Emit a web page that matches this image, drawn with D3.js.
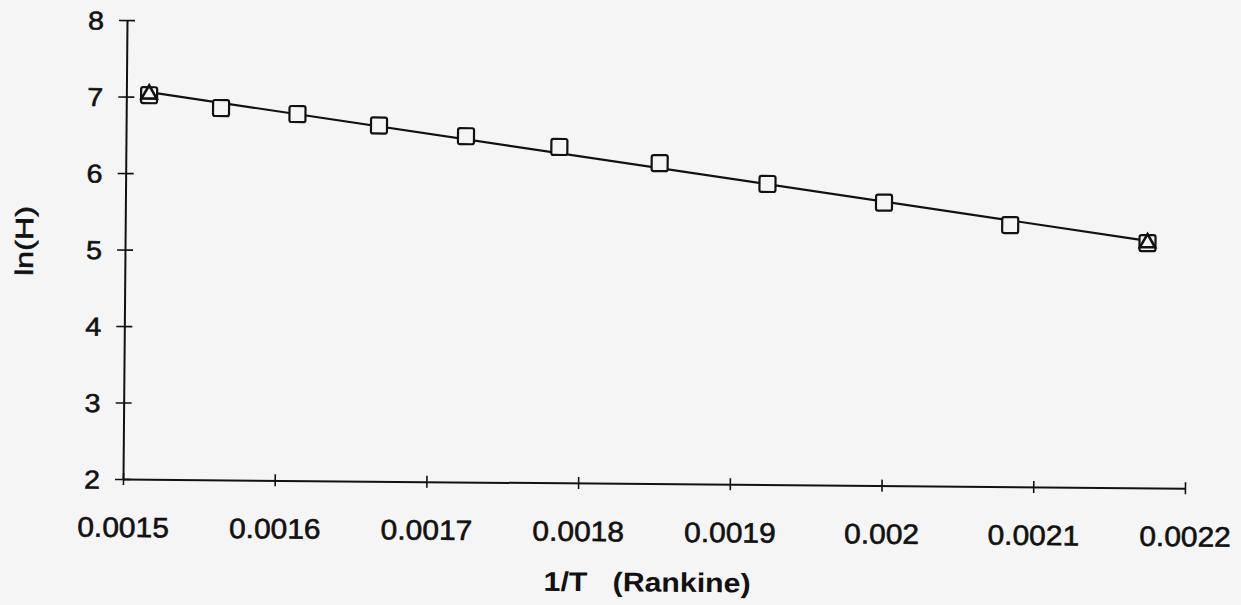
<!DOCTYPE html>
<html>
<head>
<meta charset="utf-8">
<script src="https://cdn.jsdelivr.net/npm/d3@7"></script>
<style>
  html, body { margin: 0; padding: 0; background: #f5f5f5; }
  svg { display: block; font-family: "Liberation Sans", Arial, Helvetica, sans-serif; }
</style>
</head>
<body>
<svg id="chart" width="1241" height="605"></svg>
<script>
// Measured points: reciprocal temperature (1/°R) and ln(H)
const invT = [0.001515, 0.0015625, 0.0016129, 0.0016667, 0.0017241, 0.0017857,
              0.0018519, 0.0019231, 0.0020000, 0.0020833, 0.0021739];
const lnH  = [7.02, 6.86, 6.79, 6.65, 6.52, 6.39, 6.19, 5.93, 5.70, 5.42, 5.20];

// Straight-line fit, drawn between its two end values
const fitInvT = [0.001515, 0.0021739];
const fitLnH  = [7.06, 5.23];

// Axis ticks
const xTicks = [0.0015, 0.0016, 0.0017, 0.0018, 0.0019, 0.0020, 0.0021, 0.0022];
const xTickLabels = ["0.0015", "0.0016", "0.0017", "0.0018", "0.0019", "0.002", "0.0021", "0.0022"];
const yTicks = [2, 3, 4, 5, 6, 7, 8];

const xTitle = "1/T   (Rankine)";
const yTitle = "ln(H)";

const ink = "#111";
const paper = "#f5f5f5";

const svg = d3.select("#chart");
const W = 1062, H = 459;

const x = d3.scaleLinear().domain([0.0015, 0.0022]).range([0, W]);
const y = d3.scaleLinear().domain([2, 8]).range([H, 0]);

// whole plot sits at a slight clockwise tilt
const g = svg.append("g")
  .attr("transform", `translate(123,20) rotate(0.5,0,${H})`);

// x axis
const xAxis = g.append("g")
  .attr("transform", `translate(0,${H})`)
  .call(d3.axisBottom(x)
    .tickValues(xTicks)
    .tickFormat((d, i) => xTickLabels[i])
    .tickSizeInner(6)
    .tickSizeOuter(0));
xAxis.select(".domain").attr("stroke", ink).attr("stroke-width", 2);
xAxis.selectAll(".tick line").attr("stroke", ink).attr("stroke-width", 1.6)
  .attr("y1", -6).attr("y2", 6);
xAxis.selectAll(".tick text")
  .attr("fill", ink)
  .attr("stroke", ink).attr("stroke-width", 0.6)
  .attr("font-size", 28)
  .attr("y", 58).attr("dy", 0)
  .attr("transform", "scale(1.07,1)");

// y axis
const yAxis = g.append("g")
  .call(d3.axisLeft(y)
    .tickValues(yTicks)
    .tickFormat(d3.format("d"))
    .tickSizeInner(8)
    .tickSizeOuter(0));
yAxis.select(".domain").attr("stroke", ink).attr("stroke-width", 2);
yAxis.selectAll(".tick line").attr("stroke", ink).attr("stroke-width", 1.6)
  .attr("x1", -8).attr("x2", 8);
yAxis.selectAll(".tick text")
  .attr("fill", ink)
  .attr("stroke", ink).attr("stroke-width", 0.6)
  .attr("font-size", 26)
  .attr("x", -21).attr("dy", "0.36em")
  .attr("transform", "scale(1.1,1)");

// axis titles
g.append("text")
  .attr("x", 525).attr("y", H + 108)
  .attr("text-anchor", "middle")
  .attr("font-size", 27)
  .attr("font-weight", "bold")
  .attr("fill", ink)
  .attr("textLength", 207)
  .attr("lengthAdjust", "spacingAndGlyphs")
  .style("white-space", "pre")
  .text(xTitle);

g.append("text")
  .attr("transform", `translate(-92,${y(5.1)}) rotate(-90)`)
  .attr("text-anchor", "middle")
  .attr("font-size", 25)
  .attr("fill", ink)
  .attr("stroke", ink).attr("stroke-width", 0.6)
  .attr("textLength", 70)
  .attr("lengthAdjust", "spacingAndGlyphs")
  .text(yTitle);

// fit line
const fit = fitInvT.map((v, i) => [v, fitLnH[i]]);
g.append("path")
  .datum(fit)
  .attr("fill", "none")
  .attr("stroke", ink)
  .attr("stroke-width", 2.2)
  .attr("d", d3.line().x(d => x(d[0])).y(d => y(d[1])));

// measured points as open squares
const S = 16;
g.selectAll("rect.pt")
  .data(invT.map((v, i) => [v, lnH[i]]))
  .join("rect")
  .attr("class", "pt")
  .attr("x", d => x(d[0]) - S / 2)
  .attr("y", d => y(d[1]) - S / 2)
  .attr("width", S).attr("height", S)
  .attr("rx", 2)
  .attr("fill", paper)
  .attr("stroke", ink)
  .attr("stroke-width", 2.2);

// fit end points as open triangles
g.selectAll("path.tri")
  .data(fit)
  .join("path")
  .attr("class", "tri")
  .attr("transform", d => `translate(${x(d[0])},${y(d[1]) + 2})`)
  .attr("d", d3.symbol(d3.symbolTriangle, 100))
  .attr("fill", "none")
  .attr("stroke", ink)
  .attr("stroke-width", 2.6);
</script>
</body>
</html>
